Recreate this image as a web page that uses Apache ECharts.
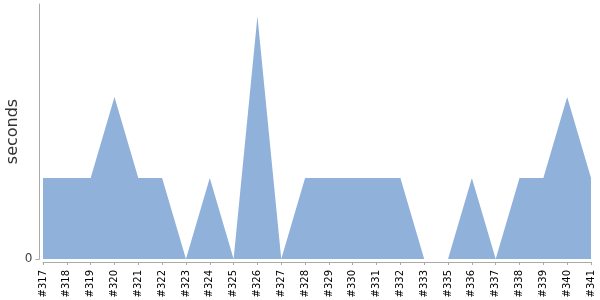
<!DOCTYPE html>
<html><head><meta charset="utf-8">
<script src="https://cdn.jsdelivr.net/npm/echarts@6/dist/echarts.min.js"></script>
<style>html,body{margin:0;padding:0;background:#fff}#c{width:600px;height:300px}</style>
</head><body><div id="c"></div>
<script>
const categories = ['#317','#318','#319','#320','#321','#322','#323','#324','#325','#326','#327','#328','#329','#330','#331','#332','#333','#335','#336','#337','#338','#339','#340','#341'];
const seconds = [1,1,1,2,1,1,0,1,0,3,0,1,1,1,1,1,0,0,1,0,1,1,2,1];
const yTicks = [0];

const chart = echarts.init(document.getElementById('c'), null, {renderer:'canvas'});
chart.setOption({
  animation:false,
  grid:{left:43,right:9,top:4,bottom:41,containLabel:false,outerBoundsMode:'none'},
  xAxis:{
    type:'category', data:categories, boundaryGap:false, offset:3,
    axisLine:{onZero:false,lineStyle:{color:'#aaa',width:1}},
    axisTick:{alignWithLabel:true,length:3,lineStyle:{color:'#aaa'}},
    axisLabel:{rotate:90,interval:0,fontFamily:'DejaVu Sans',fontSize:10,color:'#000',margin:8,hideOverlap:false}
  },
  yAxis:{
    type:'value', min:0, max:3.15, offset:3.5,
    name:'seconds', nameLocation:'middle', nameGap:19, nameMoveOverlap:false,
    nameTextStyle:{fontFamily:'DejaVu Sans',fontSize:16,color:'#333'},
    splitLine:{show:false},
    axisLine:{show:true,onZero:false,lineStyle:{color:'#aaa',width:1}},
    axisTick:{show:true,length:4,customValues:yTicks,lineStyle:{color:'#aaa'}},
    axisLabel:{fontFamily:'DejaVu Sans',fontSize:12,color:'#444',margin:7,customValues:yTicks}
  },
  series:[{
    type:'line', data:seconds, symbol:'none',
    lineStyle:{width:0,opacity:0},
    areaStyle:{color:'#8fb1da',opacity:1}
  }]
});
</script></body></html>
